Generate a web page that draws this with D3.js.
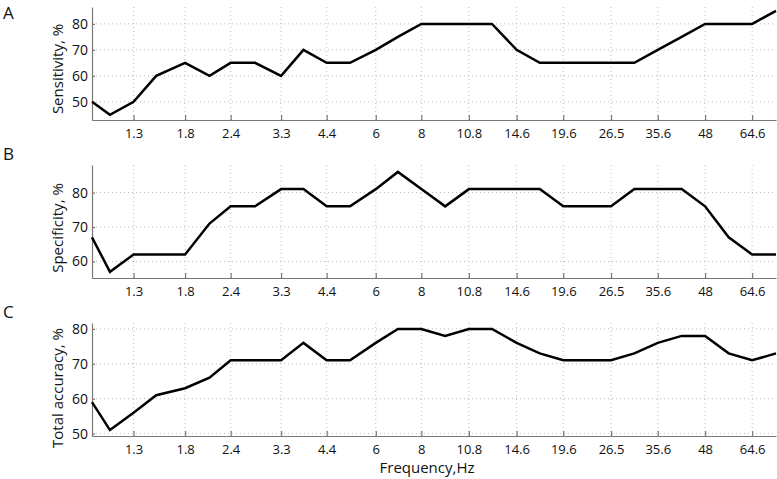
<!DOCTYPE html>
<html>
<head>
<meta charset="utf-8">
<script src="https://cdn.jsdelivr.net/npm/d3@7"></script>
<style>
  body { margin: 0; background: #fff; }
  svg text { font-family: "Open Sans", "Noto Sans", sans-serif; fill: #111; }
</style>
</head>
<body>
<div id="chart"></div>
<script>
// frequencies (Hz) of the measured points
const freqs = [1, 1.12, 1.3, 1.5, 1.8, 2.1, 2.4, 2.8, 3.3, 3.8, 4.4, 5.1, 6, 6.9, 8, 9.3,
  10.8, 12.5, 14.6, 16.9, 19.6, 22.8, 26.5, 30.7, 35.6, 41.4, 48, 55.7, 64.6, 75.1];
const xTicks = [1.3, 1.8, 2.4, 3.3, 4.4, 6, 8, 10.8, 14.6, 19.6, 26.5, 35.6, 48, 64.6];

const sensitivity = [50, 45, 50, 60, 65, 60, 65, 65, 60, 70, 65, 65, 70, 75, 80, 80,
  80, 80, 70, 65, 65, 65, 65, 65, 70, 75, 80, 80, 80, 85];
const specificity = [67, 57, 62, 62, 62, 71, 76, 76, 81, 81, 76, 76, 81, 86, 81, 76,
  81, 81, 81, 81, 76, 76, 76, 81, 81, 81, 76, 67, 62, 62];
const accuracy = [59, 51, 56, 61, 63, 66, 71, 71, 71, 76, 71, 71, 76, 80, 80, 78,
  80, 80, 76, 73, 71, 71, 71, 73, 76, 78, 78, 73, 71, 73];

const panels = [
  {letter: 'A', label: 'Sensitivity, %', values: sensitivity, domain: [43, 86.5], ticks: [50, 60, 70, 80], top: 7, bottom: 120, letterY: 19, labelY: 69},
  {letter: 'B', label: 'Specificity, %', values: specificity, domain: [55.2, 88], ticks: [60, 70, 80], top: 165, bottom: 278, letterY: 160, labelY: 228},
  {letter: 'C', label: 'Total accuracy, %', values: accuracy, domain: [49.3, 81.7], ticks: [50, 60, 70, 80], top: 323, bottom: 436, letterY: 318, labelY: 388}
];

const width = 777, height = 479;
const left = 92, right = 776;

const svg = d3.select('#chart').append('svg')
  .attr('width', width)
  .attr('height', height)
  .attr('viewBox', `0,0,${width},${height}`);

const x = d3.scaleLog().domain([1, 75.1]).range([left, right]);

panels.forEach(p => {
  const y = d3.scaleLinear().domain(p.domain).range([p.bottom, p.top]);
  const g = svg.append('g');

  // dotted grid
  g.append('g').selectAll('line').data(xTicks).join('line')
    .attr('x1', d => x(d)).attr('x2', d => x(d))
    .attr('y1', p.top).attr('y2', p.bottom)
    .attr('stroke', '#aaa').attr('stroke-width', 0.8).attr('stroke-dasharray', '1,3');
  g.append('g').selectAll('line').data(p.ticks).join('line')
    .attr('x1', left).attr('x2', right)
    .attr('y1', d => y(d)).attr('y2', d => y(d))
    .attr('stroke', '#aaa').attr('stroke-width', 0.8).attr('stroke-dasharray', '1,3');

  // axes
  const xAxis = g.append('g')
    .attr('transform', `translate(0,${p.bottom})`)
    .call(d3.axisBottom(x).tickValues(xTicks).tickFormat(d => d).tickSizeInner(-5).tickSizeOuter(0).tickPadding(9));
  const yAxis = g.append('g')
    .attr('transform', `translate(${left},0)`)
    .call(d3.axisLeft(y).tickValues(p.ticks).tickSizeInner(-3).tickSizeOuter(0).tickPadding(4));
  [xAxis, yAxis].forEach(a => {
    a.select('.domain').attr('stroke', '#777').attr('stroke-width', 1.2);
    a.selectAll('.tick line').attr('stroke', '#777').attr('stroke-width', 1.2);
    a.selectAll('.tick text').attr('font-size', 13).attr('fill', '#111')
      .style('font-family', '"Open Sans", sans-serif');
  });
  yAxis.selectAll('.tick text').attr('font-size', 14);

  // data line
  const line = d3.line().x((d, i) => x(freqs[i])).y(d => y(d));
  g.append('path')
    .datum(p.values)
    .attr('d', line)
    .attr('fill', 'none')
    .attr('stroke', '#000')
    .attr('stroke-width', 2.5)
    .attr('stroke-linejoin', 'miter');

  // y label
  g.append('text')
    .attr('transform', `translate(63,${p.labelY}) rotate(-90)`)
    .attr('text-anchor', 'middle')
    .attr('font-size', 15)
    .text(p.label);

  // panel letter
  g.append('text')
    .attr('x', 3).attr('y', p.letterY)
    .attr('font-size', 17)
    .text(p.letter);
});

svg.append('text')
  .attr('x', 427).attr('y', 473)
  .attr('text-anchor', 'middle')
  .attr('font-size', 15)
  .text('Frequency,Hz');
</script>
</body>
</html>
